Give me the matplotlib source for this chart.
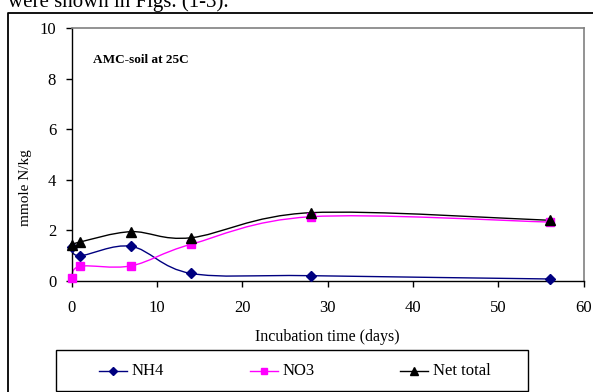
import numpy as np
import matplotlib
matplotlib.use("Agg")
import matplotlib.pyplot as plt
from matplotlib.path import Path
from matplotlib.patches import PathPatch, Rectangle
from matplotlib.lines import Line2D

days = [0, 1, 7, 14, 28, 56]
nh4 = [1.33, 1.00, 1.37, 0.30, 0.21, 0.08]
no3 = [0.12, 0.58, 0.60, 1.45, 2.54, 2.33]
net_total = [1.42, 1.54, 1.95, 1.71, 2.70, 2.40]
series_names = ["NH4", "NO3", "Net total"]
x_ticks = [0, 10, 20, 30, 40, 50, 60]
y_ticks = [0, 2, 4, 6, 8, 10]

plt.rcParams['font.family'] = ['Liberation Serif', 'DejaVu Serif']

W, H = 593, 392
fig = plt.figure(figsize=(W / 100, H / 100), dpi=100)

# axes box in pixels
L, R, T, B = 71.5, 583.7, 28, 281
ax = fig.add_axes([L / W, 1 - B / H, (R - L) / W, (B - T) / H])
ax.set_xlim(0, 60)
ax.set_ylim(0, 10)
ax.set_xticks(x_ticks)
ax.set_yticks(y_ticks)
ax.tick_params(direction='out', length=4, width=1, labelsize=12, colors='black')
ax.tick_params(axis='x', pad=10)
ax.tick_params(axis='y', pad=7)
for s in ['top', 'right']:
    ax.spines[s].set_color('#808080')
    ax.spines[s].set_linewidth(1.2)
for s in ['left', 'bottom']:
    ax.spines[s].set_color('black')
    ax.spines[s].set_linewidth(1.0)


def smooth_path(ax, xs, ys):
    # Excel-like smoothed line: cubic Bezier segments in display space
    pts = ax.transData.transform(np.column_stack([xs, ys]))
    n = len(pts)
    verts = [pts[0]]
    codes = [Path.MOVETO]
    for i in range(n - 1):
        p0 = pts[i - 1] if i > 0 else pts[i]
        p1 = pts[i]
        p2 = pts[i + 1]
        p3 = pts[i + 2] if i + 2 < n else pts[i + 1]
        c1 = p1 + (p2 - p0) / 6.0
        c2 = p2 - (p3 - p1) / 6.0
        verts += [c1, c2, p2]
        codes += [Path.CURVE4] * 3
    inv = ax.transData.inverted()
    return Path(inv.transform(np.array(verts)), codes)


colors = ['#000080', '#FF00FF', 'black']
markers = ['D', 's', '^']
msizes = [5, 6, 7]
data = [nh4, no3, net_total]
for ys, c, m, ms in zip(data, colors, markers, msizes):
    p = smooth_path(ax, days, ys)
    ax.add_patch(PathPatch(p, facecolor='none', edgecolor=c, lw=1.0, clip_on=False))
    ax.plot(days, ys, linestyle='none', marker=m, color=c, markersize=ms, clip_on=False, zorder=5)

ax.text(0.042, 0.875, "AMC-soil at 25C", transform=ax.transAxes, fontsize=9.5,
        fontweight='bold', va='center', ha='left')

fig.text(26 / W, 1 - 188 / H, "mmole N/kg", rotation=90, fontsize=11,
         ha='center', va='center')
fig.text(327 / W, 1 - 337 / H, "Incubation time (days)", fontsize=11.5,
         ha='center', va='center')

# outer chart border
fig.add_artist(Line2D([8 / W, 8 / W, 1.0], [0, 1 - 13 / H, 1 - 13 / H],
                      transform=fig.transFigure, color='black', lw=1.3))

# legend box
fig.add_artist(Rectangle((55.5 / W, 1 - 390.5 / H), (528 - 55.5) / W, (390.5 - 350) / H,
                         transform=fig.transFigure, facecolor='white',
                         edgecolor='black', lw=1.0))
leg_x = [99, 250, 400]
leg_y = 1 - 371 / H
for name, c, m, ms, lx in zip(series_names, colors, markers, msizes, leg_x):
    fig.add_artist(Line2D([lx / W, (lx + 28) / W], [leg_y, leg_y],
                          transform=fig.transFigure, color=c, lw=1.0))
    fig.add_artist(Line2D([(lx + 14) / W], [leg_y], transform=fig.transFigure,
                          color=c, marker=m, markersize=ms - 1, linestyle='none'))
    fig.text((lx + 33) / W, leg_y, name, fontsize=12, va='center', ha='left')

# cut-off text from surrounding document
fig.text(8 / W, 1 - 7 / H, "were shown in Figs. (1-3).", fontsize=15,
         va='baseline', ha='left')

fig.savefig("out.png", dpi=100)
